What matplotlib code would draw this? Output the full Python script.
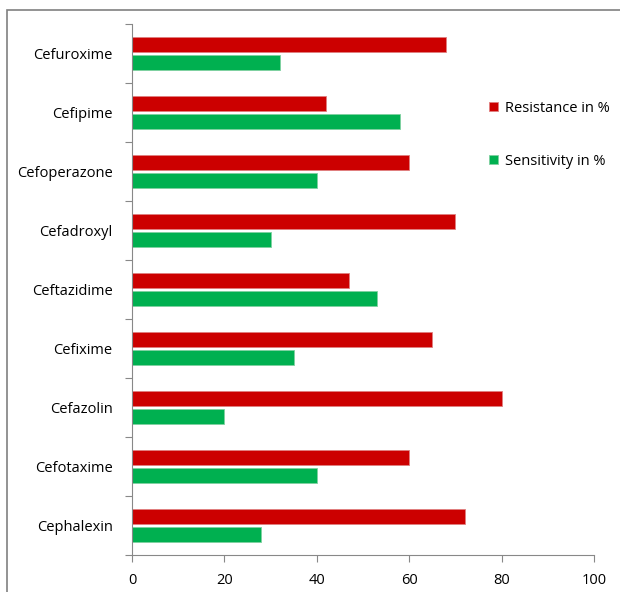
import numpy as np
import matplotlib.pyplot as plt
from matplotlib.patches import Rectangle

# Datos (de abajo hacia arriba)
drugs = ['Cephalexin', 'Cefotaxime', 'Cefazolin', 'Cefixime', 'Ceftazidime',
         'Cefadroxyl', 'Cefoperazone', 'Cefipime', 'Cefuroxime']
resistance = [72, 60, 80, 65, 47, 70, 60, 42, 68]
sensitivity = [28, 40, 20, 35, 53, 30, 40, 58, 32]
x_ticks = [0, 20, 40, 60, 80, 100]

plt.rcParams['font.family'] = ['Open Sans', 'DejaVu Sans']

fig = plt.figure(figsize=(6.2, 5.92), dpi=100)
# Marco exterior gris
fig.patches.append(Rectangle((7 / 620, -0.1), 1.2, 1 - 10 / 592 + 0.1,
                             transform=fig.transFigure, fill=False,
                             edgecolor='#808080', linewidth=1.2))

ax = fig.add_axes([132 / 620, 1 - 555 / 592, 462 / 620, 531 / 592])
y = np.arange(len(drugs))
h = 0.255
ax.barh(y + 0.145, resistance, height=h, color='#cc0000', edgecolor='#e08080',
        linewidth=0.6, label='Resistance in %')
ax.barh(y - 0.145, sensitivity, height=h, color='#00b050', edgecolor='#80d0a0',
        linewidth=0.6, label='Sensitivity in %')

ax.set_xlim(0, 100)
ax.set_ylim(-0.5, len(drugs) - 0.5)
ax.set_xticks(x_ticks)
ax.tick_params(axis='x', length=5, color='#888888', labelsize=10.5, pad=8)

# Marcas en los limites de categoria, etiquetas en el centro
ax.set_yticks(np.arange(-0.5, len(drugs), 1.0))
ax.set_yticklabels([])
ax.tick_params(axis='y', which='major', length=5, color='#888888')
ax.set_yticks(y, minor=True)
ax.set_yticklabels(drugs, minor=True)
ax.tick_params(axis='y', which='minor', length=0, labelsize=10.5, pad=14)

for s in ['top', 'right']:
    ax.spines[s].set_visible(False)
for s in ['left', 'bottom']:
    ax.spines[s].set_color('#888888')

ax.legend(loc='upper left', bbox_to_anchor=(0.745, 0.88), frameon=False,
          fontsize=10.5, handlelength=0.6, handleheight=0.6, handletextpad=0.5,
          labelspacing=2.6)

fig.savefig('out.png', dpi=100)
